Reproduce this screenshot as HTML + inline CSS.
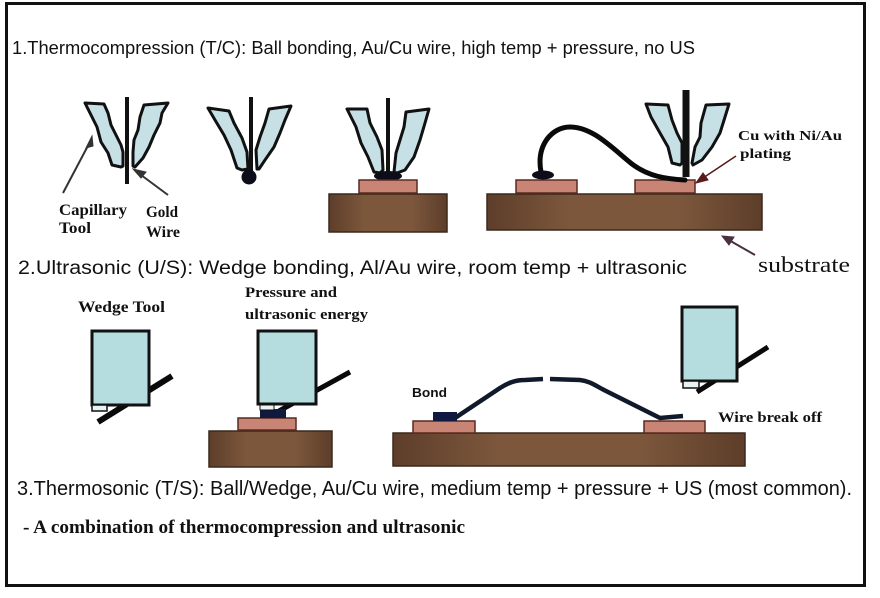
<!DOCTYPE html>
<html>
<head>
<meta charset="utf-8">
<style>
html,body{margin:0;padding:0;background:#fff;}
svg{display:block;}
.sans{font-family:"Liberation Sans",sans-serif;}
.serif{font-family:"Liberation Serif",serif;font-weight:bold;}
</style>
</head>
<body>
<svg width="880" height="598" viewBox="0 0 880 598" xmlns="http://www.w3.org/2000/svg">
<defs>
<linearGradient id="sub" x1="0" y1="0" x2="1" y2="0">
<stop offset="0" stop-color="#5d3e2a"/>
<stop offset="0.3" stop-color="#7c573c"/>
<stop offset="0.7" stop-color="#7c573c"/>
<stop offset="1" stop-color="#5d3e2a"/>
</linearGradient>
</defs>
<rect x="0" y="0" width="880" height="598" fill="#fff"/>
<!-- frame -->
<rect x="6.5" y="3.5" width="858" height="582" fill="none" stroke="#111" stroke-width="3"/>

<!-- Titles -->
<text class="sans" x="12" y="54" font-size="18" fill="#111" textLength="683" lengthAdjust="spacingAndGlyphs">1.Thermocompression (T/C): Ball bonding, Au/Cu wire, high temp + pressure, no US</text>
<text class="sans" x="18" y="274" font-size="19" fill="#111" textLength="669" lengthAdjust="spacingAndGlyphs">2.Ultrasonic (U/S): Wedge bonding, Al/Au wire, room temp + ultrasonic</text>
<text class="sans" x="17" y="495" font-size="20" fill="#111" textLength="835" lengthAdjust="spacingAndGlyphs">3.Thermosonic (T/S): Ball/Wedge, Au/Cu wire, medium temp + pressure + US (most common).</text>
<text class="serif" x="23" y="533" font-size="19" fill="#111" textLength="442" lengthAdjust="spacingAndGlyphs">- A combination of thermocompression and ultrasonic</text>

<!-- ===== Section 1 ===== -->
<g stroke="#111" stroke-width="3" stroke-linejoin="round" fill="#c6e0e5">
<!-- tool 1 -->
<polygon points="85,103 104,104 108,113 111,125 115,133 121,145 123,152 123,166 121,167 112,165 108,153 101,142 97,127 91,115"/>
<polygon points="144,105 168,103 162,113 160,123 154,135 149,147 143,158 135,167 133,166 133,152 134,140 138,130 140,117"/>
<!-- tool 2 -->
<polygon points="208,108 229,111 234,123 242,138 247,152 248,169 242,170 237,168 231,150 224,135 215,120"/>
<polygon points="269,109 291,106 285,120 280,133 274,147 265,160 259,169 257,169 256,150 260,137 265,123"/>
<!-- tool 3 -->
<polygon points="347,109 367,109 370,123 377,137 382,150 383,170 380,173 374,172 368,157 361,143 356,127"/>
<polygon points="406,112 429,109 425,123 420,140 414,157 405,170 397,173 394,172 396,153 400,140 404,127"/>
<!-- tool 4 -->
<polygon points="646,104 668,105 672,120 677,133 682,143 682,163 680,165 672,163 668,147 660,133 651,117"/>
<polygon points="706,105 729,104 725,117 720,133 712,147 702,160 693,165 692,163 695,147 700,137 701,123"/>
</g>
<!-- wires -->
<line x1="127" y1="97" x2="127" y2="184" stroke="#111" stroke-width="4"/>
<line x1="251" y1="97" x2="251" y2="174" stroke="#111" stroke-width="4"/>
<circle cx="249" cy="177" r="7.5" fill="#0d0d1a"/>
<line x1="388" y1="98" x2="388" y2="172" stroke="#111" stroke-width="4"/>
<ellipse cx="388" cy="176" rx="14" ry="5" fill="#0d0d1a"/>
<line x1="686" y1="90" x2="686" y2="177" stroke="#111" stroke-width="7"/>

<!-- substrates section 1 -->
<rect x="329" y="194" width="118" height="38" fill="url(#sub)" stroke="#3a281c" stroke-width="1.5"/>
<rect x="359" y="180" width="58" height="13" fill="#c88474" stroke="#5a2a20" stroke-width="1.5"/>
<rect x="487" y="194" width="275" height="36" fill="url(#sub)" stroke="#3a281c" stroke-width="1.5"/>
<rect x="516" y="180" width="61" height="13" fill="#c88474" stroke="#5a2a20" stroke-width="1.5"/>
<rect x="635" y="180" width="60" height="13" fill="#c88474" stroke="#5a2a20" stroke-width="1.5"/>
<!-- bond wire -->
<path d="M541,172 C536,145 552,127 570,127 C593,127 612,148 632,164 C648,176 665,179 685,180" fill="none" stroke="#0a0a0a" stroke-width="5" stroke-linecap="round"/>
<ellipse cx="543" cy="175" rx="11" ry="4.5" fill="#0d0d1a"/>

<!-- arrows section 1 -->
<g stroke="#333" stroke-width="2" fill="#333">
<line x1="63" y1="193" x2="91" y2="140"/>
<polygon points="92,136 86,148 93,146" stroke-width="1"/>
<line x1="168" y1="195" x2="137" y2="172"/>
<polygon points="133,169 146,172 141,178" stroke-width="1"/>
</g>
<g stroke="#5a1a1a" stroke-width="1.6" fill="#5a1a1a">
<line x1="736" y1="156" x2="700" y2="180"/>
<polygon points="696,183 708,180 703,173" stroke-width="1"/>
</g>
<g stroke="#4a3040" stroke-width="2" fill="#4a3040">
<line x1="755" y1="255" x2="727" y2="239"/>
<polygon points="722,236 734,237 729,245" stroke-width="1"/>
</g>

<!-- labels section 1 -->
<text class="serif" x="59" y="215" font-size="16" fill="#111" textLength="68" lengthAdjust="spacingAndGlyphs">Capillary</text>
<text class="serif" x="59" y="233" font-size="16" fill="#111" textLength="32" lengthAdjust="spacingAndGlyphs">Tool</text>
<text class="serif" x="146" y="217" font-size="16" fill="#111" textLength="32" lengthAdjust="spacingAndGlyphs">Gold</text>
<text class="serif" x="146" y="237" font-size="16" fill="#111" textLength="34" lengthAdjust="spacingAndGlyphs">Wire</text>
<text class="serif" x="738" y="140" font-size="14" fill="#111" textLength="104" lengthAdjust="spacingAndGlyphs">Cu with Ni/Au</text>
<text class="serif" x="740" y="158" font-size="14" fill="#111" textLength="51" lengthAdjust="spacingAndGlyphs">plating</text>
<text x="758" y="272" font-family="Liberation Serif, serif" font-size="22" fill="#111" textLength="92" lengthAdjust="spacingAndGlyphs">substrate</text>

<!-- ===== Section 2 ===== -->
<text class="serif" x="78" y="312" font-size="16" fill="#111" textLength="87" lengthAdjust="spacingAndGlyphs">Wedge Tool</text>
<text class="serif" x="245" y="297" font-size="15" fill="#111" textLength="92" lengthAdjust="spacingAndGlyphs">Pressure and</text>
<text class="serif" x="245" y="319" font-size="15" fill="#111" textLength="123" lengthAdjust="spacingAndGlyphs">ultrasonic energy</text>

<!-- wedge 1 -->
<line x1="98" y1="422" x2="172" y2="376" stroke="#0a0a0a" stroke-width="6"/>
<rect x="92" y="331" width="57" height="74" fill="#b5dde0" stroke="#111" stroke-width="3"/>
<rect x="92" y="405" width="15" height="6" fill="#e8f2f2" stroke="#111" stroke-width="1.5"/>

<!-- wedge 2 -->
<rect x="209" y="431" width="123" height="36" fill="url(#sub)" stroke="#3a281c" stroke-width="1.5"/>
<rect x="238" y="418" width="58" height="12" fill="#c88474" stroke="#5a2a20" stroke-width="1.5"/>
<line x1="279" y1="411" x2="350" y2="372" stroke="#0a0a0a" stroke-width="5"/>
<rect x="260" y="409" width="26" height="9" fill="#101a40"/>
<rect x="258" y="331" width="58" height="73" fill="#b5dde0" stroke="#111" stroke-width="3"/>
<rect x="260" y="405" width="14" height="5" fill="#e8f2f2" stroke="#111" stroke-width="1"/>

<!-- right part section 2 -->
<rect x="393" y="433" width="352" height="33" fill="url(#sub)" stroke="#3a281c" stroke-width="1.5"/>
<rect x="413" y="421" width="62" height="12" fill="#c88474" stroke="#5a2a20" stroke-width="1.5"/>
<rect x="644" y="421" width="61" height="12" fill="#c88474" stroke="#5a2a20" stroke-width="1.5"/>
<rect x="433" y="412" width="24" height="9" fill="#101a40"/>
<path d="M455,418 L500,388 C508,383 515,380 525,380 L543,379" fill="none" stroke="#111a2a" stroke-width="4.5"/>
<path d="M550,379 L580,380 C590,381 596,386 604,390 L660,418 L683,416" fill="none" stroke="#111a2a" stroke-width="4.5"/>
<text x="412" y="397" font-family="Liberation Sans, sans-serif" font-weight="bold" font-size="13" fill="#111" textLength="35" lengthAdjust="spacingAndGlyphs">Bond</text>
<text class="serif" x="718" y="422" font-size="15" fill="#111" textLength="104" lengthAdjust="spacingAndGlyphs">Wire break off</text>

<!-- wedge 3 -->
<line x1="697" y1="392" x2="768" y2="347" stroke="#0a0a0a" stroke-width="5"/>
<rect x="682" y="307" width="55" height="74" fill="#b5dde0" stroke="#111" stroke-width="3"/>
<rect x="683" y="381" width="16" height="7" fill="#e8f2f2" stroke="#111" stroke-width="1.5"/>
</svg>
</body>
</html>
